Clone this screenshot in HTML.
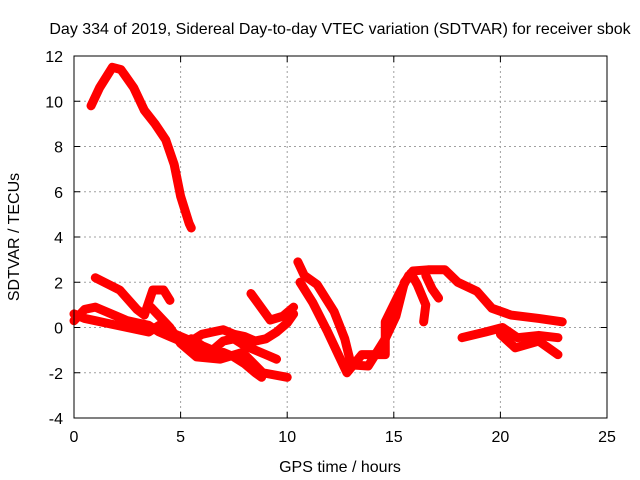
<!DOCTYPE html>
<html><head><meta charset="utf-8"><style>
html,body{margin:0;padding:0;background:#fff;}
svg{display:block;font-family:"Liberation Sans",sans-serif;}
</style></head><body>
<svg id="chart" width="640" height="480">
<rect width="640" height="480" fill="#fff"/>
<text x="340" y="34" font-size="16" text-anchor="middle">Day 334 of 2019, Sidereal Day-to-day VTEC variation (SDTVAR) for receiver sbok</text>
<g id="grid"></g><g id="marks"></g><g id="axes"></g>
<text x="340" y="472" font-size="16" text-anchor="middle">GPS time / hours</text>
<text transform="translate(19,237) rotate(-90)" font-size="16" text-anchor="middle">SDTVAR / TECUs</text>
</svg>
<script>
const xTicks=[0,5,10,15,20,25];
const yTicks=[-4,-2,0,2,4,6,8,10,12];
const trackA_x=[0.8,1.2,1.8,2.2,2.8,3.3,3.8,4.3,4.7,5.0,5.4,5.5];
const trackA_y=[9.8,10.6,11.5,11.4,10.6,9.6,9.0,8.3,7.2,5.8,4.6,4.4];
const trackB_x=[1.0,2.15,2.95,3.3,3.7,4.2,4.5];
const trackB_y=[2.2,1.65,0.8,0.55,1.66,1.66,1.2];
const trackC_x=[3.6,4.5,5.0,5.75,6.85,7.9,8.85,10.0];
const trackC_y=[0.9,0.0,-0.7,-1.3,-1.4,-1.1,-2.0,-2.2];
const trackD_x=[0,0.5,1.0,1.5,2.0,2.5,3.0,3.5,4.0,4.5,5.0,5.5,6.0,6.5,7.0,7.5,8.0,8.5,8.8];
const trackD_y=[0.3,0.8,0.9,0.7,0.5,0.3,0.2,0.1,-0.2,-0.4,-0.6,-0.9,-1.2,-1.3,-1.1,-1.3,-1.6,-2.0,-2.2];
const trackE_x=[0,0.5,1.0,1.5,2.0,2.5,3.0,3.5,4.0,4.5,5.0,5.5,6.0,6.5,7.0,7.5,8.0,8.5,9.0,9.5,10.0,10.3];
const trackE_y=[0.6,0.4,0.3,0.2,0.1,0.0,-0.1,-0.2,0.1,-0.2,-0.4,-0.6,-0.3,-0.2,-0.1,-0.3,-0.4,-0.6,-0.5,-0.2,0.2,0.6];
const trackF_x=[5.5,6.0,6.5,7.0,7.5,8.0,8.5,9.0,9.5];
const trackF_y=[-0.5,-0.8,-1.0,-0.6,-0.5,-0.8,-1.0,-1.2,-1.4];
const trackG_x=[8.3,9.2,9.8,10.3];
const trackG_y=[1.5,0.33,0.5,0.9];
const trackH_x=[10.5,10.8,11.4,12.2,12.7,13.0,13.8,14.6,15.1,15.5,15.9,16.6,17.4,18.0,18.9,19.6,20.5,21.8,22.9];
const trackH_y=[2.9,2.3,1.9,0.7,-0.5,-1.65,-1.7,-0.5,0.5,2.0,2.5,2.55,2.55,2.0,1.6,0.85,0.55,0.4,0.25];
const trackI_x=[10.6,11.2,11.9,12.4,12.8,13.5,14.6,14.6,15.2,15.7];
const trackI_y=[2.0,1.1,-0.2,-1.2,-2.0,-1.2,-1.2,0.25,1.4,2.3];
const trackJ_x=[15.8,16.1,16.5,16.4];
const trackJ_y=[2.4,1.9,1.0,0.25];
const trackK_x=[16.5,16.8,17.1];
const trackK_y=[2.3,1.7,1.3];
const trackL_x=[18.2,19.3,20.1,20.8,21.8,22.7];
const trackL_y=[-0.45,-0.2,0.0,-0.45,-0.35,-0.45];
const trackM_x=[20.0,20.7,21.8,22.7];
const trackM_y=[-0.3,-0.9,-0.6,-1.2];
const tracksX=[trackA_x,trackB_x,trackC_x,trackD_x,trackE_x,trackF_x,trackG_x,trackH_x,trackI_x,trackJ_x,trackK_x,trackL_x,trackM_x];
const tracksY=[trackA_y,trackB_y,trackC_y,trackD_y,trackE_y,trackF_y,trackG_y,trackH_y,trackI_y,trackJ_y,trackK_y,trackL_y,trackM_y];

const L=74,R=607,T=56,B=418;
function sx(v){return L+(v-0)/25*(R-L);}
function sy(v){return B-(v+4)/16*(B-T);}
const NS="http://www.w3.org/2000/svg";
function mk(tag,attrs,parent){const e=document.createElementNS(NS,tag);for(const k in attrs)e.setAttribute(k,attrs[k]);parent.appendChild(e);return e;}
const grid=document.getElementById('grid'),axes=document.getElementById('axes'),marks=document.getElementById('marks');
xTicks.forEach(t=>{
  const x=sx(t);
  if(t>0&&t<25){const g=mk('line',{x1:x,x2:x,y1:T,y2:B,stroke:'#a0a0a0','stroke-dasharray':'2,3'},grid);
  
  }
  mk('line',{x1:x,x2:x,y1:B,y2:B-6,stroke:'#000'},axes);
  mk('line',{x1:x,x2:x,y1:T,y2:T+6,stroke:'#000'},axes);
  const tx=mk('text',{x:x,y:B+24,'font-size':16,'text-anchor':'middle'},axes);
  tx.textContent=t;
  
  
});
yTicks.forEach(t=>{
  const y=sy(t);
  if(t>-4&&t<12){const g=mk('line',{x1:L,x2:R,y1:y,y2:y,stroke:'#a0a0a0','stroke-dasharray':'2,3'},grid);
  
  }
  mk('line',{x1:L,x2:L+6,y1:y,y2:y,stroke:'#000'},axes);
  mk('line',{x1:R,x2:R-6,y1:y,y2:y,stroke:'#000'},axes);
  const tx=mk('text',{x:L-11,y:y+6,'font-size':16,'text-anchor':'end'},axes);
  tx.textContent=t;
  
  
});
const box=mk('rect',{x:L,y:T,width:R-L,height:B-T,fill:'none',stroke:'#000'},axes);


tracksX.forEach((xs,i)=>{
  const ys=tracksY[i];
  const pts=xs.map((x,j)=>sx(x)+','+sy(ys[j])).join(' ');
  const pl=mk('polyline',{points:pts,fill:'none',stroke:'#f00','stroke-width':9,'stroke-linejoin':'round','stroke-linecap':'round'},marks);
  
  
  xs.forEach((x,j)=>{
    const px=sx(x),py=sy(ys[j]);
    const p=mk('path',{d:`M${px-4},${py}H${px+4}M${px},${py-4}V${py+4}`,stroke:'#f00','stroke-width':1.5},marks);
    
    
  });
});
</script>
</body></html>
